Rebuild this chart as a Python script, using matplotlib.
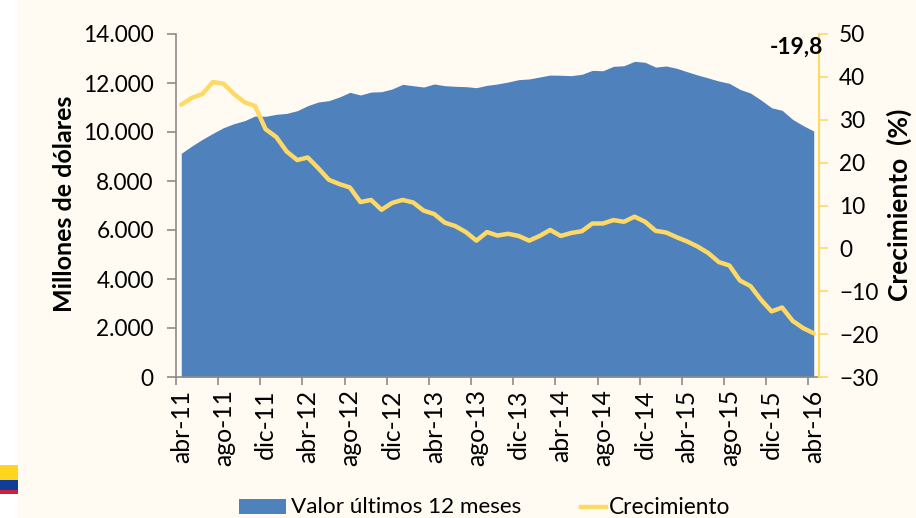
import matplotlib
matplotlib.use('Agg')
import matplotlib.pyplot as plt
from matplotlib.patches import Rectangle
from matplotlib.lines import Line2D

plt.rcParams['font.family'] = ['Lato', 'DejaVu Sans']

tick_labels = ['abr-11','ago-11','dic-11','abr-12','ago-12','dic-12','abr-13','ago-13',
               'dic-13','abr-14','ago-14','dic-14','abr-15','ago-15','dic-15','abr-16']
valor = [9130,9428,9700,9945,10176,10340,10462,10653,10640,10720,10760,10870,11075,11224,11280,
         11428,11620,11510,11630,11645,11755,11945,11890,11836,11960,11890,11865,11850,11810,11905,
         11960,12040,12135,12165,12245,12325,12315,12300,12355,12515,12500,12680,12705,12885,12845,
         12650,12695,12600,12460,12325,12205,12080,11985,11740,11590,11305,10990,10885,10515,10260,10040]
crecimiento = [33.5,35.1,36,38.8,38.4,36,34.1,33.2,27.8,26,22.6,20.6,21.2,18.7,16,
               15,14.2,10.8,11.3,9,10.6,11.3,10.7,8.8,8,6,5.2,3.8,1.8,3.8,
               3,3.4,2.9,1.8,2.9,4.3,2.9,3.6,4,5.8,5.8,6.6,6.2,7.4,6.2,
               4.1,3.7,2.6,1.6,0.4,-1.1,-3.2,-4,-7.5,-8.8,-12,-14.7,-13.8,-16.9,-18.6,-19.8]
idx = list(range(len(valor)))

W, H = 916, 518
BG = '#FFFBF2'; BLUE = '#4F81BD'; YEL = '#FFD966'; GREY = '#8C8C8C'
fig = plt.figure(figsize=(W/100, H/100), dpi=100, facecolor='white')
fig.add_artist(Rectangle((18/W, 0), 1-18/W, 1, transform=fig.transFigure, fc=BG, ec='none', zorder=-5))
for y0, y1, c in [(465, 480, '#FFD520'), (480, 490, '#0F3D9A'), (490, 494, '#D0203A')]:
    fig.add_artist(Rectangle((0, 1-y1/H), 18/W, (y1-y0)/H, transform=fig.transFigure, fc=c, ec='none'))

ax = fig.add_axes([176/W, 1-377/H, (819-176)/W, (377-34)/H])
ax.patch.set_alpha(0)
ax.fill_between(idx, valor, 0, color=BLUE, lw=0)
ax.set_xlim(-0.5, 60.5)
ax.set_ylim(0, 14000)
ax.set_yticks(range(0, 14001, 2000))
ax.set_yticklabels(['0','2.000','4.000','6.000','8.000','10.000','12.000','14.000'])
ax.set_xticks([i-0.5 for i in range(0, 61, 4)])
ax.set_xticklabels([])
ax.set_xticks(list(range(0, 61, 4)), minor=True)
ax.set_xticklabels(tick_labels, minor=True, rotation=90)
ax.tick_params(axis='x', which='major', length=6, width=1.2, color=GREY)
ax.tick_params(axis='x', which='minor', length=0, pad=9, labelsize=17.8, labelcolor='black')
ax.tick_params(axis='y', length=6.5, width=1.2, color=GREY, labelsize=16.3, pad=9.5)
for s in ['top', 'right']:
    ax.spines[s].set_visible(False)
for s in ['left', 'bottom']:
    ax.spines[s].set_color(GREY); ax.spines[s].set_linewidth(1.2)

ax2 = ax.twinx()
ax2.patch.set_alpha(0)
ax2.plot(idx, crecimiento, color=YEL, lw=3.2, solid_joinstyle='round', solid_capstyle='round')
ax2.set_ylim(-30, 50)
ax2.set_yticks(range(-30, 51, 10))
ax2.tick_params(axis='y', length=6.5, width=1.2, color=YEL, labelsize=16.3, pad=8)
for s in ['top', 'left', 'bottom']:
    ax2.spines[s].set_visible(False)
ax2.spines['right'].set_color(YEL); ax2.spines['right'].set_linewidth(1.5)

fig.text(65/W, 1-204/H, 'Millones de dólares', rotation=90, ha='center', va='center', fontsize=18, fontweight='bold')
fig.text(899/W, 1-205/H, 'Crecimiento  (%)', rotation=90, ha='center', va='center', fontsize=19, fontweight='bold')
fig.text(823/W, 1-47/H, f'{crecimiento[-1]}'.replace('.', ','), ha='right', va='center', fontsize=16.5, fontweight='bold')

# legend, placed to match the reference's differing key widths
fig.add_artist(Rectangle((239/W, 1-514/H), 47/W, 15/H, transform=fig.transFigure, fc=BLUE, ec='none'))
fig.text(291/W, 1-507/H, 'Valor últimos 12 meses', ha='left', va='center', fontsize=16.2)
fig.add_artist(Line2D([581/W, 606/W], [1-507/H, 1-507/H], transform=fig.transFigure, color=YEL, lw=3.2))
fig.text(609/W, 1-507/H, 'Crecimiento', ha='left', va='center', fontsize=16.3)
fig.savefig('out.png', dpi=100, facecolor=fig.get_facecolor())
